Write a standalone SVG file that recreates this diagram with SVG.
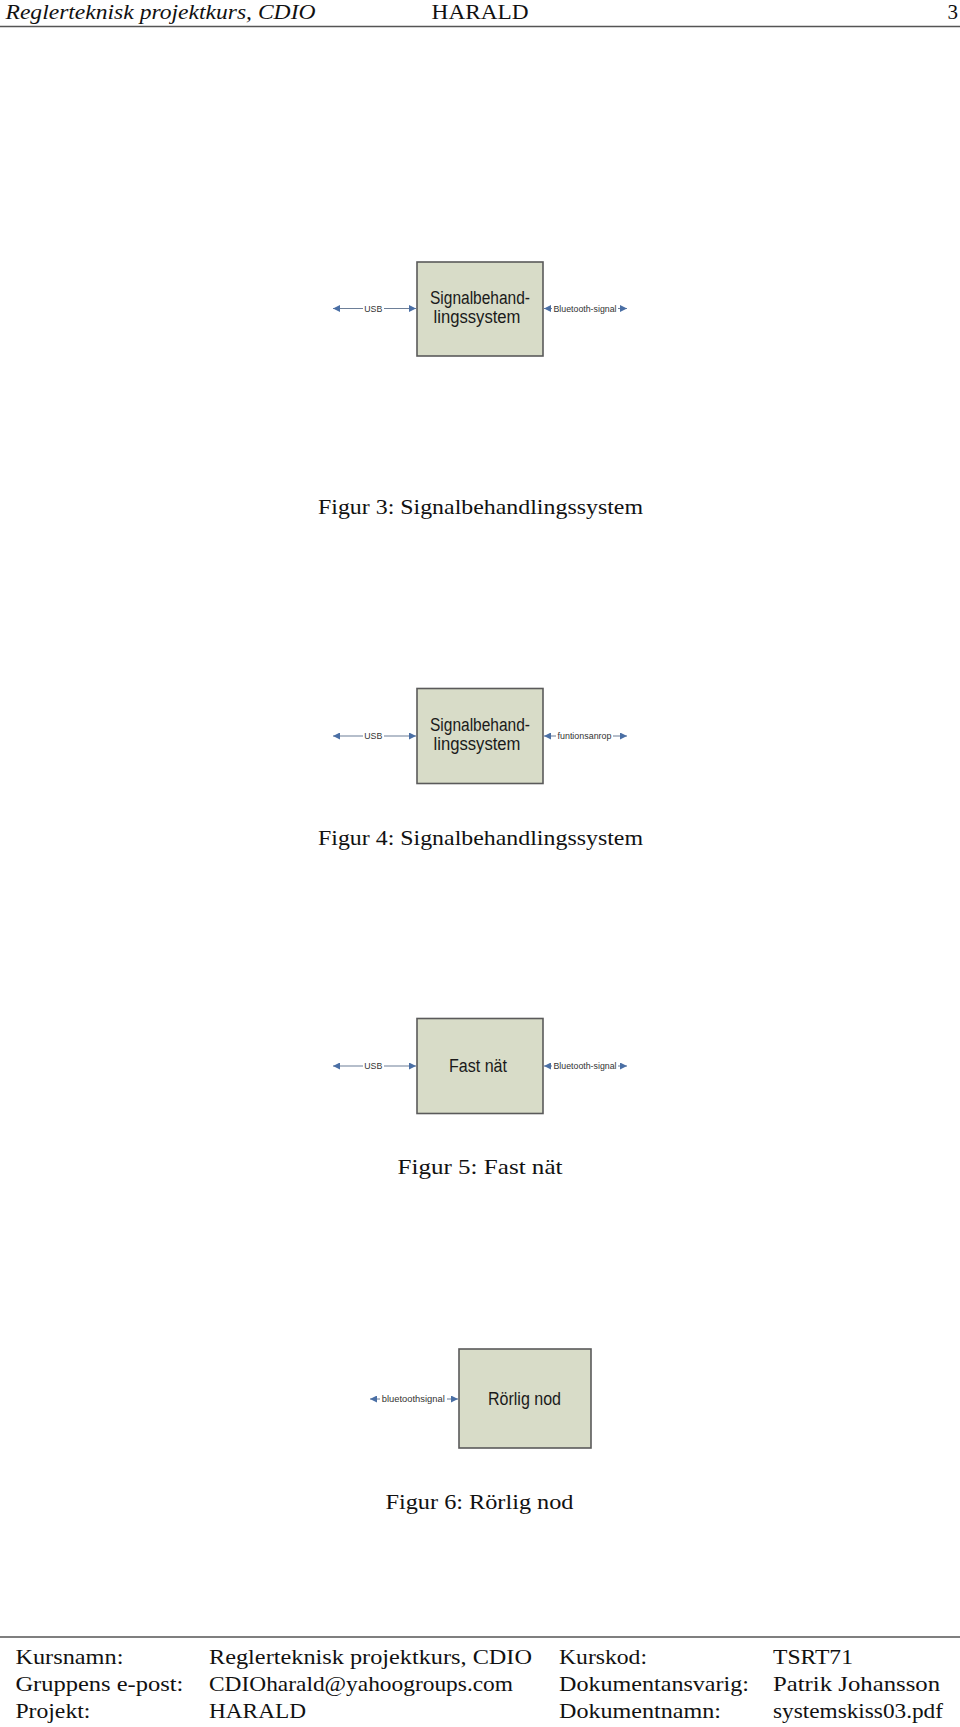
<svg xmlns="http://www.w3.org/2000/svg" width="960" height="1727" viewBox="0 0 960 1727">
<style>
.page{font-family:"Liberation Serif","Times New Roman",serif;fill:#111;font-size:21px}
.hdr{font-style:italic}
.box{fill:#d8dcc8;stroke:#5a5a5a;stroke-width:1.6}
.boxt{font-family:"Liberation Sans",Arial,sans-serif;font-size:18px;fill:#1a1a1a;text-anchor:middle}
.conn{stroke:#6d7f98;stroke-width:1.1;fill:none;marker-start:url(#ah);marker-end:url(#ah)}
.lbl{font-family:"Liberation Sans",Arial,sans-serif;font-size:9px;fill:#333;text-anchor:middle}
.lblbg{fill:#fff}
.rule{stroke:#555;stroke-width:1.6}
</style>
<defs>
<marker id="ah" viewBox="0 0 10 10" refX="10" refY="5" markerWidth="7" markerHeight="7" markerUnits="userSpaceOnUse" orient="auto-start-reverse">
<path d="M0,0 L10,5 L0,10 Z" fill="#4a6fa5"/>
</marker>
</defs>
<rect width="960" height="1727" fill="#fff"/>

<g id="header" class="page">
<text class="hdr" x="5.5" y="19" textLength="310" lengthAdjust="spacingAndGlyphs">Reglerteknisk projektkurs, CDIO</text>
<text x="431.6" y="19" textLength="97" lengthAdjust="spacingAndGlyphs">HARALD</text>
<text x="958" y="19" text-anchor="end">3</text>
<line class="rule" x1="0" y1="26.5" x2="960" y2="26.5"/>
</g>

<g id="connectors">
<line class="conn" x1="333" y1="308.5" x2="416" y2="308.5"/>
<line class="conn" x1="544" y1="308.5" x2="627" y2="308.5"/>
<line class="conn" x1="333" y1="736" x2="416" y2="736"/>
<line class="conn" x1="544" y1="736" x2="627" y2="736"/>
<line class="conn" x1="333" y1="1066" x2="416" y2="1066"/>
<line class="conn" x1="544" y1="1066" x2="627" y2="1066"/>
<line class="conn" x1="370" y1="1399" x2="458" y2="1399"/>
<rect class="lblbg" x="363" y="303" width="21" height="11"/>
<text class="lbl" x="373.3" y="311.5" textLength="18" lengthAdjust="spacingAndGlyphs">USB</text>
<rect class="lblbg" x="552" y="303" width="66" height="11"/>
<text class="lbl" x="585" y="311.5" textLength="63" lengthAdjust="spacingAndGlyphs">Bluetooth-signal</text>
<rect class="lblbg" x="363" y="730.5" width="21" height="11"/>
<text class="lbl" x="373.3" y="739" textLength="18" lengthAdjust="spacingAndGlyphs">USB</text>
<rect class="lblbg" x="556" y="730.5" width="57" height="11"/>
<text class="lbl" x="584.5" y="739" textLength="54" lengthAdjust="spacingAndGlyphs">funtionsanrop</text>
<rect class="lblbg" x="363" y="1060.5" width="21" height="11"/>
<text class="lbl" x="373.3" y="1069" textLength="18" lengthAdjust="spacingAndGlyphs">USB</text>
<rect class="lblbg" x="552" y="1060.5" width="66" height="11"/>
<text class="lbl" x="585" y="1069" textLength="63" lengthAdjust="spacingAndGlyphs">Bluetooth-signal</text>
<rect class="lblbg" x="380" y="1393.5" width="67" height="11"/>
<text class="lbl" x="413.3" y="1402" textLength="63" lengthAdjust="spacingAndGlyphs">bluetoothsignal</text>
</g>

<g id="fig3-node">
<rect class="box" x="417" y="262" width="126" height="94"/>
<text class="boxt" x="480" y="304" textLength="100" lengthAdjust="spacingAndGlyphs">Signalbehand-</text>
<text class="boxt" x="477" y="323" textLength="87" lengthAdjust="spacingAndGlyphs">lingssystem</text>
</g>
<g id="fig3-caption" class="page">
<text x="318" y="514" textLength="325" lengthAdjust="spacingAndGlyphs">Figur 3: Signalbehandlingssystem</text>
</g>

<g id="fig4-node">
<rect class="box" x="417" y="688.5" width="126" height="95"/>
<text class="boxt" x="480" y="731" textLength="100" lengthAdjust="spacingAndGlyphs">Signalbehand-</text>
<text class="boxt" x="477" y="750" textLength="87" lengthAdjust="spacingAndGlyphs">lingssystem</text>
</g>
<g id="fig4-caption" class="page">
<text x="318" y="844.5" textLength="325" lengthAdjust="spacingAndGlyphs">Figur 4: Signalbehandlingssystem</text>
</g>

<g id="fig5-node">
<rect class="box" x="417" y="1018.5" width="126" height="95"/>
<text class="boxt" x="478" y="1072" textLength="58" lengthAdjust="spacingAndGlyphs">Fast nät</text>
</g>
<g id="fig5-caption" class="page">
<text x="397.5" y="1173.5" textLength="165" lengthAdjust="spacingAndGlyphs">Figur 5: Fast nät</text>
</g>

<g id="fig6-node">
<rect class="box" x="459" y="1349" width="132" height="99"/>
<text class="boxt" x="524.5" y="1405" textLength="73" lengthAdjust="spacingAndGlyphs">Rörlig nod</text>
</g>
<g id="fig6-caption" class="page">
<text x="385.5" y="1509" textLength="188" lengthAdjust="spacingAndGlyphs">Figur 6: Rörlig nod</text>
</g>

<g id="footer" class="page">
<line class="rule" x1="0" y1="1637" x2="960" y2="1637"/>
<text x="15.4" y="1664" textLength="108" lengthAdjust="spacingAndGlyphs">Kursnamn:</text>
<text x="209" y="1664" textLength="323" lengthAdjust="spacingAndGlyphs">Reglerteknisk projektkurs, CDIO</text>
<text x="559" y="1664" textLength="88" lengthAdjust="spacingAndGlyphs">Kurskod:</text>
<text x="773" y="1664" textLength="80" lengthAdjust="spacingAndGlyphs">TSRT71</text>
<text x="15.4" y="1691" textLength="168" lengthAdjust="spacingAndGlyphs">Gruppens e-post:</text>
<text x="209" y="1691" textLength="304" lengthAdjust="spacingAndGlyphs">CDIOharald@yahoogroups.com</text>
<text x="559" y="1691" textLength="190" lengthAdjust="spacingAndGlyphs">Dokumentansvarig:</text>
<text x="773" y="1691" textLength="167" lengthAdjust="spacingAndGlyphs">Patrik Johansson</text>
<text x="15.4" y="1718" textLength="75" lengthAdjust="spacingAndGlyphs">Projekt:</text>
<text x="209" y="1718" textLength="97" lengthAdjust="spacingAndGlyphs">HARALD</text>
<text x="559" y="1718" textLength="162" lengthAdjust="spacingAndGlyphs">Dokumentnamn:</text>
<text x="773" y="1718" textLength="170" lengthAdjust="spacingAndGlyphs">systemskiss03.pdf</text>
</g>
</svg>
